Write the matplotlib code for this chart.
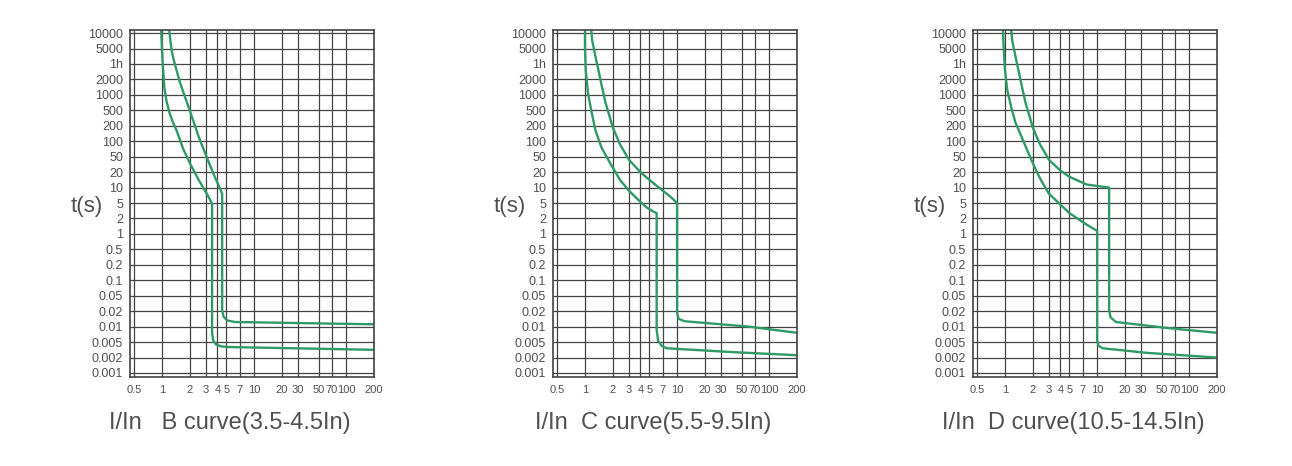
import numpy as np
import matplotlib.pyplot as plt
from matplotlib.ticker import NullLocator

# tick labels (the time axis is not a true log scale,
# every label gets one row of the grid)
t_labels = ['10000', '5000', '1h', '2000', '1000', '500', '200', '100', '50',
            '20', '10', '5', '2', '1', '0.5', '0.2', '0.1', '0.05', '0.02',
            '0.01', '0.005', '0.002', '0.001']
i_ticks = [0.5, 1, 2, 3, 4, 5, 7, 10, 20, 30, 50, 70, 100, 200]
i_labels = ['0.5', '1', '2', '3', '4', '5', '7', '10', '20', '30', '50', '70', '100', '200']

titles = ['I/In   B curve(3.5-4.5In)',
          'I/In  C curve(5.5-9.5In)',
          'I/In  D curve(10.5-14.5In)']

# curves: x in multiples of In, y in rows of the t(s) axis (0 = 10000 s)
b_low_x = [0.98, 1.0, 1.02, 1.06, 1.12, 1.2, 1.3, 1.44, 1.7, 2.0, 2.5, 3.14, 3.4, 3.5,
           3.5, 3.6, 3.85, 4.4, 5.3, 200]
b_low_y = [-0.2, 1.0, 2.0, 3.5, 4.4, 5.1, 5.7, 6.3, 7.5, 8.4, 9.5, 10.5, 10.9, 11.1,
           19.4, 19.9, 20.15, 20.28, 20.32, 20.5]
b_up_x = [1.2, 1.24, 1.28, 1.35, 1.44, 1.55, 1.7, 2.0, 2.5, 3.14, 3.8, 4.3, 4.5,
          4.5, 4.65, 5.1, 6.2, 200]
b_up_y = [-0.2, 0.6, 1.2, 1.8, 2.4, 3.1, 3.8, 5.0, 6.7, 8.2, 9.4, 10.1, 10.4,
          17.9, 18.35, 18.6, 18.7, 18.85]

c_low_x = [1.0, 1.0, 1.02, 1.08, 1.17, 1.3, 1.51, 1.75, 2.0, 2.4, 3.0, 3.8, 4.7, 5.5, 6.0,
           6.0, 6.2, 6.8, 7.7, 40, 200]
c_low_y = [-0.2, 1.0, 2.4, 3.9, 5.0, 6.3, 7.4, 8.1, 8.7, 9.5, 10.2, 10.8, 11.3, 11.55, 11.65,
           19.2, 19.9, 20.25, 20.4, 20.65, 20.85]
c_up_x = [1.17, 1.2, 1.25, 1.32, 1.4, 1.52, 1.67, 1.83, 2.0, 2.4, 3.0, 4.0, 5.0, 7.0, 8.5, 10,
          10, 10.4, 12, 60, 200]
c_up_y = [-0.2, 0.5, 1.0, 1.7, 2.4, 3.4, 4.5, 5.3, 6.1, 7.2, 8.2, 9.0, 9.5, 10.2, 10.6, 11.0,
          18.1, 18.5, 18.65, 19.0, 19.4]

d_low_x = [0.95, 0.97, 1.0, 1.06, 1.17, 1.3, 1.51, 1.75, 2.0, 2.4, 3.0, 4.0, 5.0, 7.7, 10,
           10, 10.4, 11.5, 35, 200]
d_low_y = [-0.2, 1.0, 2.4, 3.7, 4.8, 5.8, 6.7, 7.6, 8.4, 9.4, 10.4, 11.1, 11.65, 12.4, 12.8,
           19.9, 20.25, 20.4, 20.7, 21.0]
d_up_x = [1.17, 1.2, 1.25, 1.32, 1.4, 1.52, 1.67, 1.83, 2.0, 2.4, 3.0, 4.0, 5.0, 7.7, 13.5,
          13.5, 14, 16, 60, 200]
d_up_y = [-0.2, 0.5, 1.0, 1.7, 2.4, 3.4, 4.5, 5.3, 6.1, 7.2, 8.2, 8.9, 9.3, 9.8, 10.0,
          17.9, 18.4, 18.7, 19.1, 19.4]

curves = [[(b_low_x, b_low_y), (b_up_x, b_up_y)],
          [(c_low_x, c_low_y), (c_up_x, c_up_y)],
          [(d_low_x, d_low_y), (d_up_x, d_up_y)]]

green = '#2e9b66'
grid_col = '#444444'
text_col = '#505050'


def draw_panel(ax, pair, title):
    '''draw one tripping curve panel'''
    ax.set_xscale('log')
    ax.set_xlim(0.45, 200)
    ax.set_ylim(22.26, -0.2)

    ax.set_xticks(i_ticks)
    ax.set_xticklabels(i_labels)
    ax.xaxis.set_minor_locator(NullLocator())
    ax.set_yticks(np.arange(len(t_labels)))
    ax.set_yticklabels(t_labels)

    ax.tick_params(axis='y', length=0, pad=5, labelsize=9, labelcolor=text_col)
    ax.tick_params(axis='x', length=0, pad=6, labelsize=8, labelcolor=text_col)
    for lab in ax.get_xticklabels() + ax.get_yticklabels():
        lab.set_fontfamily('Liberation Sans')

    ax.grid(True, color=grid_col, lw=0.9)
    ax.set_axisbelow(True)
    for sp in ax.spines.values():
        sp.set_color(grid_col)
        sp.set_linewidth(1.2)

    for xs, ys in pair:
        ax.plot(xs, ys, color=green, lw=1.7, solid_joinstyle='round')

    ax.text(-0.176, 0.49, 't(s)', transform=ax.transAxes, ha='center', va='center',
            fontsize=16, color=text_col, family='Liberation Sans')
    ax.text(0.41, -0.133, title, transform=ax.transAxes, ha='center', va='center',
            fontsize=17, color=text_col, family='Liberation Sans')


fig = plt.figure(figsize=(12.92, 4.66), dpi=100)
lefts = [130, 553, 973]
for k in range(3):
    ax = fig.add_axes([lefts[k] / 1292., 89 / 466., 244 / 1292., 347 / 466.])
    draw_panel(ax, curves[k], titles[k])

fig.savefig('out.png', dpi=100, facecolor='white')
plt.close(fig)
